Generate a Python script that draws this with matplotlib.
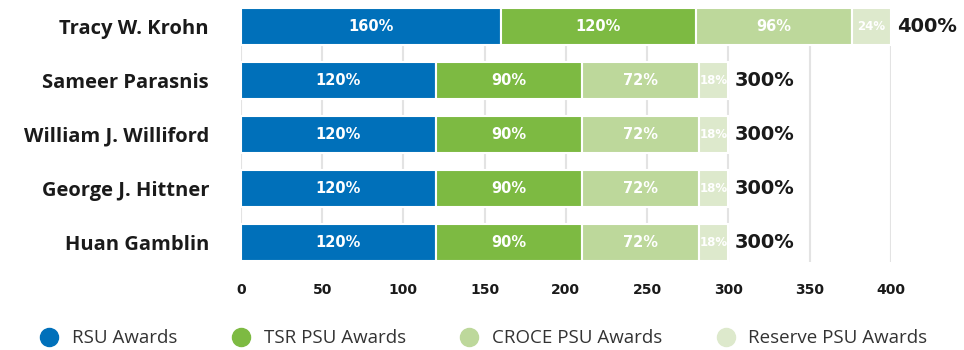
import numpy as np
import matplotlib
matplotlib.use("Agg")
import matplotlib.pyplot as plt
from matplotlib.lines import Line2D

names = ["Tracy W. Krohn", "Sameer Parasnis", "William J. Williford",
         "George J. Hittner", "Huan Gamblin"]
rsu = [160, 120, 120, 120, 120]
tsr = [120, 90, 90, 90, 90]
croce = [96, 72, 72, 72, 72]
reserve = [24, 18, 18, 18, 18]
series_labels = ["RSU Awards", "TSR PSU Awards", "CROCE PSU Awards", "Reserve PSU Awards"]
colors = ["#0070ba", "#7dba42", "#bdd89b", "#dde9cc"]
ticks = [0, 50, 100, 150, 200, 250, 300, 350, 400]

plt.rcParams["font.family"] = ["Open Sans", "DejaVu Sans"]
num_font = ["DejaVu Sans"]   # wider digits, closer to the original

fig = plt.figure(figsize=(9.64, 3.5), dpi=100)
ax = fig.add_axes([0.25, 0.2514, 0.674, 0.7257])

y = np.arange(len(names))
left = np.zeros(len(names))
for vals, col in zip([rsu, tsr, croce, reserve], colors):
    vals = np.array(vals, dtype=float)
    ax.barh(y, vals, left=left, height=0.685, color=col,
            edgecolor="white", linewidth=1.5, zorder=3)
    for yi, (l, v) in enumerate(zip(left, vals)):
        fs = 10.5 if v >= 40 else 8.5
        ax.text(l + v / 2, yi, f"{v:.0f}%", ha="center", va="center",
                color="white", fontsize=fs, fontweight="bold",
                family=num_font, zorder=4)
    left += vals

for yi, tot in enumerate(left):
    ax.text(tot + 4, yi, f"{tot:.0f}%", ha="left", va="center",
            color="#1a1a1a", fontsize=14, fontweight="bold",
            family=num_font, zorder=4)

ax.set_xlim(0, 400)
ax.set_ylim(4.37, -0.35)
ax.set_xticks(ticks)
ax.set_xticklabels([str(t) for t in ticks], fontsize=10, fontweight="bold",
                   color="#1a1a1a", family=num_font)
ax.set_yticks(y)
ax.set_yticklabels(names, fontsize=14.5, fontweight="bold", color="#1a1a1a")
ax.tick_params(axis="both", length=0)
ax.tick_params(axis="x", pad=15)
ax.tick_params(axis="y", pad=23)
for t in ticks:
    ax.axvline(t, color="#e3e3e3", linewidth=1.5, zorder=1)
for s in ax.spines.values():
    s.set_visible(False)

handles = [Line2D([], [], marker="o", linestyle="", markersize=13,
                  markerfacecolor=c, markeredgecolor=c) for c in colors]
fig.legend(handles, series_labels, loc="center", bbox_to_anchor=(0.497, 0.034),
           ncol=4, frameon=False, fontsize=13.5, handletextpad=0.2,
           columnspacing=2.4, labelcolor="#333333")

fig.savefig("out.png", dpi=100)
